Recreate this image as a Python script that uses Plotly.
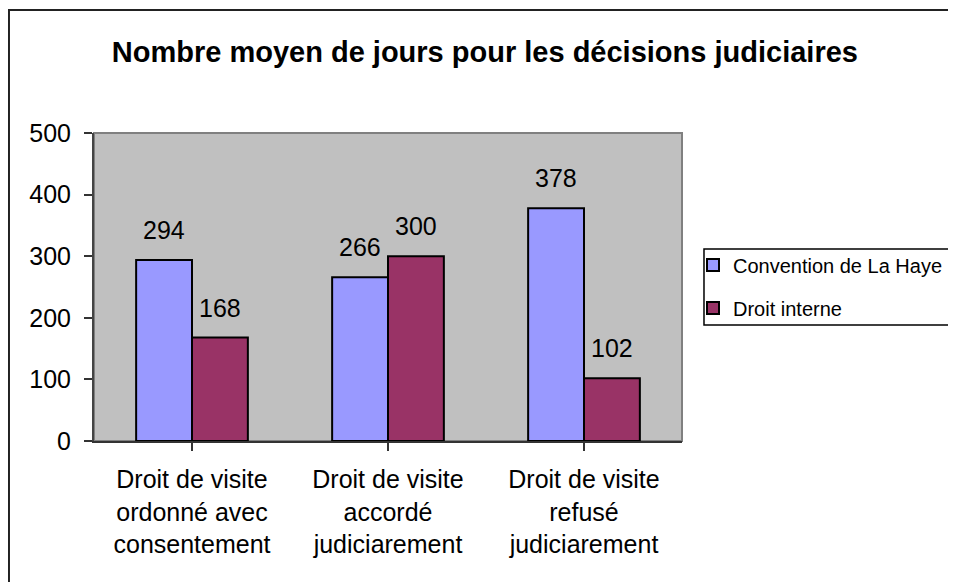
import plotly.graph_objects as go

categories = [
    "Droit de visite<br>ordonné avec<br>consentement",
    "Droit de visite<br>accordé<br>judiciarement",
    "Droit de visite<br>refusé<br>judiciarement",
]
series_names = ["Convention de La Haye", "Droit interne"]
hague_values = [294, 266, 378]
internal_values = [168, 300, 102]
series_colors = ["#9999FF", "#993366"]
y_ticks = [0, 100, 200, 300, 400, 500]
title_text = "Nombre moyen de jours pour les décisions judiciaires"

FONT = "Liberation Sans, Arial, sans-serif"
BARGAP = 0.43

fig = go.Figure()
for name, vals, col, grp in zip(series_names, [hague_values, internal_values], series_colors, ["a", "b"]):
    fig.add_trace(go.Bar(
        x=list(range(len(categories))), y=vals, name=name, legendgroup=grp,
        marker=dict(color=col, line=dict(color="#000000", width=2)),
        hoverinfo="skip",
    ))

# data labels above bars (offset derived from the bar layout)
half = (1 - BARGAP) / 4
for si, vals in enumerate([hague_values, internal_values]):
    off = -half if si == 0 else half
    for ci, v in enumerate(vals):
        fig.add_annotation(x=ci + off, y=v, xref="x", yref="y", text=str(v),
                           showarrow=False, yanchor="bottom", yshift=14,
                           font=dict(family=FONT, size=25, color="#000000"))

fig.update_layout(
    width=948, height=574,
    margin=dict(l=86, r=274, t=125, b=141, autoexpand=False),
    paper_bgcolor="#FFFFFF", plot_bgcolor="#C0C0C0",
    barmode="group", bargap=BARGAP, bargroupgap=0,
    font=dict(family=FONT, size=25, color="#000000"),
    title=dict(text=title_text, x=0.503, xanchor="center", xref="container",
               y=0.941, yanchor="top", yref="container",
               font=dict(family=FONT, size=29, color="#000000", weight="bold")),
    showlegend=True,
    legend=dict(x=1.0187, xanchor="left", y=0.6345, yanchor="top",
                bgcolor="rgba(0,0,0,0)", borderwidth=0,
                font=dict(family=FONT, size=20, color="#000000"),
                tracegroupgap=14, traceorder="grouped"),
    xaxis=dict(tickmode="array", tickvals=list(range(len(categories))), ticktext=categories,
               range=[-0.5, len(categories) - 0.5],
               showgrid=False, zeroline=False, showline=True, linecolor="#333333", linewidth=2,
               ticks="outside", ticklen=8, tickcolor="#333333", tickwidth=1.5,
               tickson="boundaries", ticklabelstandoff=7,
               tickfont=dict(family=FONT, size=25, color="#000000")),
    yaxis=dict(range=[0, 500], tickvals=y_ticks, showgrid=False, zeroline=False,
               showline=True, linecolor="#444444", linewidth=2,
               ticks="outside", ticklen=8, tickcolor="#333333", tickwidth=1.5,
               ticklabelstandoff=8,
               tickfont=dict(family=FONT, size=25, color="#000000")),
)

# plot-area border (gray)
fig.add_shape(type="rect", xref="paper", yref="paper", x0=0, x1=1, y0=0, y1=1,
              line=dict(color="#808080", width=2), fillcolor="rgba(0,0,0,0)", layer="below")
# outer chart border
fig.add_shape(type="rect", xref="paper", yref="paper", x0=-0.1446, x1=1.473, y0=-0.484, y1=1.399,
              line=dict(color="#222222", width=2), fillcolor="rgba(0,0,0,0)")
# legend frame
fig.add_shape(type="rect", xref="paper", yref="paper", x0=1.0374, x1=1.473, y0=0.3766, y1=0.6234,
              line=dict(color="#000000", width=1.5), fillcolor="rgba(0,0,0,0)")

fig.write_html("out.html")
